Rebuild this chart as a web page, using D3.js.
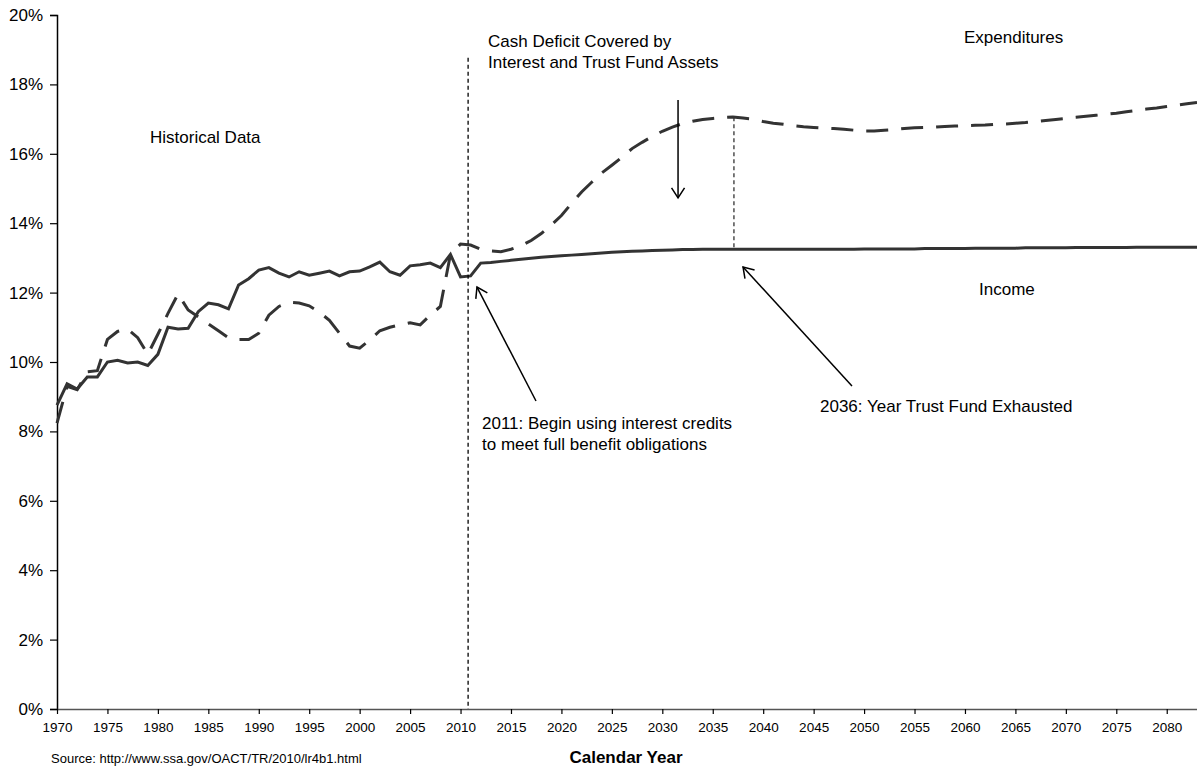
<!DOCTYPE html>
<html>
<head>
<meta charset="utf-8">
<script src="https://cdn.jsdelivr.net/npm/d3@7"></script>
<style>
  html, body { margin: 0; padding: 0; background: #fff; }
  svg { display: block; }
  text { font-family: "Liberation Sans", Arial, sans-serif; fill: #000; }
</style>
</head>
<body>
<svg id="chart" width="1197" height="767"></svg>
<script>
// ---- Data ----
const years = d3.range(1970, 2084); // 1970..2083 categories
const incomeHistorical = [8.76, 9.37, 9.22, 9.57, 9.57, 10.0, 10.05, 9.97, 10.0, 9.9,
  10.22, 11.0, 10.95, 10.97, 11.45, 11.7, 11.65, 11.53, 12.22, 12.4,
  12.65, 12.72, 12.56, 12.45, 12.6, 12.5, 12.56, 12.62, 12.48, 12.6,
  12.62, 12.74, 12.88, 12.6, 12.5, 12.77, 12.8, 12.85, 12.72, 13.1, 12.45];
const incomeProjected = [12.48, 12.85, 12.87, 12.9, 12.93, 12.96, 12.99, 13.02, 13.04, 13.06,
  13.08, 13.1, 13.12, 13.14, 13.16, 13.18, 13.19, 13.2, 13.21, 13.22,
  13.23, 13.24, 13.24, 13.25, 13.25, 13.25, 13.25, 13.25, 13.25, 13.25,
  13.25, 13.25, 13.25, 13.25, 13.25, 13.25, 13.25, 13.25, 13.25, 13.26,
  13.26, 13.26, 13.26, 13.26, 13.26, 13.27, 13.27, 13.27, 13.27, 13.27,
  13.28, 13.28, 13.28, 13.28, 13.28, 13.29, 13.29, 13.29, 13.29, 13.29,
  13.3, 13.3, 13.3, 13.3, 13.3, 13.3, 13.31, 13.31, 13.31, 13.31, 13.31, 13.31, 13.31];
const costHistorical = [8.24, 9.3, 9.2, 9.72, 9.75, 10.65, 10.88, 10.95, 10.7, 10.22,
  10.8, 11.4, 11.96, 11.5, 11.3, 11.1, 10.9, 10.7, 10.65, 10.65,
  10.83, 11.35, 11.6, 11.72, 11.7, 11.62, 11.44, 11.2, 10.83, 10.46,
  10.4, 10.63, 10.9, 11.0, 11.07, 11.13, 11.07, 11.35, 11.6, 13.1, 13.4];
const costProjected = [13.37, 13.25, 13.2, 13.18, 13.25, 13.35, 13.5, 13.7, 13.95, 14.22,
  14.57, 14.9, 15.18, 15.45, 15.67, 15.9, 16.15, 16.33, 16.5, 16.65,
  16.77, 16.87, 16.94, 16.99, 17.02, 17.05, 17.06, 17.03, 17.0, 16.93,
  16.88, 16.85, 16.81, 16.78, 16.76, 16.74, 16.73, 16.71, 16.68, 16.66,
  16.66, 16.68, 16.7, 16.73, 16.75, 16.76, 16.77, 16.79, 16.8, 16.81,
  16.82, 16.83, 16.85, 16.86, 16.88, 16.9, 16.93, 16.96, 16.99, 17.02,
  17.05, 17.08, 17.11, 17.14, 17.17, 17.21, 17.25, 17.29, 17.32, 17.36,
  17.4, 17.44, 17.48];
const yTicks = [0, 2, 4, 6, 8, 10, 12, 14, 16, 18, 20];
const xTicks = d3.range(1970, 2084, 5);

const income = incomeHistorical.concat(incomeProjected);
const cost = costHistorical.concat(costProjected);

// ---- Layout ----
const svg = d3.select("#chart");
const mLeft = 57, mRight = 1197, mTop = 15, mBottom = 709;
const x = d3.scaleLinear().domain([1970, 2083]).range([mLeft, mRight]);
const y = d3.scaleLinear().domain([0, 20]).range([mBottom, mTop]);

// Y axis
const yAxis = svg.append("g").attr("transform", `translate(${mLeft},0)`)
  .call(d3.axisLeft(y).tickValues(yTicks).tickFormat(d => d + "%").tickSize(7).tickPadding(7));
yAxis.select(".domain").attr("stroke", "#000").attr("stroke-width", 1.5);
yAxis.selectAll(".tick line").attr("stroke", "#000").attr("stroke-width", 1.2);
yAxis.selectAll(".tick text").attr("font-size", 17).attr("font-family", "Liberation Sans, Arial, sans-serif").attr("fill", "#000");

// X axis
const xAxis = svg.append("g").attr("transform", `translate(0,${mBottom})`)
  .call(d3.axisBottom(x).tickValues(xTicks).tickFormat(d3.format("d")).tickSize(5).tickSizeOuter(0).tickPadding(8));
xAxis.select(".domain").attr("stroke", "#555").attr("stroke-width", 1.5);
xAxis.selectAll(".tick line").attr("stroke", "#000").attr("stroke-width", 1.2);
xAxis.selectAll(".tick text").attr("font-size", 13.5).attr("font-family", "Liberation Sans, Arial, sans-serif").attr("fill", "#000");

// Lines
const line = d3.line().x((d, i) => x(years[i])).y(d => y(d));
svg.append("path").datum(cost)
  .attr("d", line).attr("fill", "none").attr("stroke", "#333")
  .attr("stroke-width", 3).attr("stroke-dasharray", "22,13");
svg.append("path").datum(income)
  .attr("d", line).attr("fill", "none").attr("stroke", "#333")
  .attr("stroke-width", 3).attr("stroke-linejoin", "miter");

// Vertical reference lines
svg.append("line")
  .attr("x1", x(2010.75)).attr("x2", x(2010.75))
  .attr("y1", y(18.77)).attr("y2", y(0))
  .attr("stroke", "#000").attr("stroke-width", 1.3).attr("stroke-dasharray", "4,3");
svg.append("line")
  .attr("x1", x(2037.1)).attr("x2", x(2037.1))
  .attr("y1", y(17.05)).attr("y2", y(13.27))
  .attr("stroke", "#333").attr("stroke-width", 1.3).attr("stroke-dasharray", "4,3");

// Arrow marker
svg.append("defs").append("marker")
  .attr("id", "arrow").attr("viewBox", "-12 -8 14 16")
  .attr("refX", 0).attr("refY", 0)
  .attr("markerWidth", 14).attr("markerHeight", 16)
  .attr("markerUnits", "userSpaceOnUse").attr("orient", "auto")
  .append("path").attr("d", "M-10,-6.5 L0,0 L-10,6.5")
  .attr("fill", "none").attr("stroke", "#000").attr("stroke-width", 1.5);

function arrow(x1, y1, x2, y2) {
  svg.append("line")
    .attr("x1", x(x1)).attr("y1", y(y1)).attr("x2", x(x2)).attr("y2", y(y2))
    .attr("stroke", "#000").attr("stroke-width", 1.5)
    .attr("marker-end", "url(#arrow)");
}
arrow(2031.56, 17.55, 2031.56, 14.73);
arrow(2017.48, 8.876, 2011.63, 12.16);
arrow(2048.8, 9.31, 2038.0, 12.74);

// Annotations
function label(txt, px, py, opts = {}) {
  svg.append("text").attr("x", px).attr("y", py)
    .attr("font-size", opts.size || 17)
    .attr("font-weight", opts.weight || "normal")
    .attr("text-anchor", opts.anchor || "start")
    .text(txt);
}
label("Historical Data", 150, 143);
label("Cash Deficit Covered by", 488, 47);
label("Interest and Trust Fund Assets", 488, 68);
label("Expenditures", 964, 43);
label("Income", 979, 295);
label("2011: Begin using interest credits", 482, 429);
label("to meet full benefit obligations", 482, 450);
label("2036: Year Trust Fund Exhausted", 820, 412);
label("Calendar Year", 626, 763, { weight: "bold", anchor: "middle" });
label("Source: http://www.ssa.gov/OACT/TR/2010/lr4b1.html", 51, 763, { size: 13 });
</script>
</body>
</html>
